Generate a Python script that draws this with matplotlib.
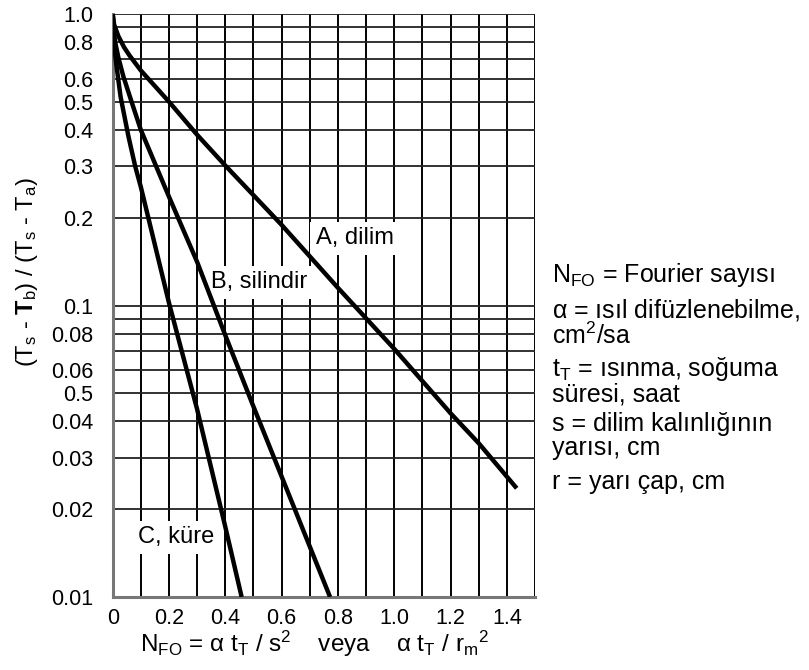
import numpy as np
import matplotlib.pyplot as plt
from matplotlib.ticker import FixedLocator, NullLocator

plt.rcParams['font.family'] = ['Liberation Sans', 'DejaVu Sans']
plt.rcParams['mathtext.fontset'] = 'custom'
plt.rcParams['mathtext.rm'] = 'Liberation Sans'
plt.rcParams['mathtext.it'] = 'Liberation Sans:italic'
plt.rcParams['mathtext.bf'] = 'Liberation Sans:bold'

# curves (N_FO, temperature ratio)
nfo_dilim = [0, 0.005, 0.02, 0.04, 0.06, 0.1, 0.2, 0.3, 0.4, 0.5, 0.6, 0.8, 1.0, 1.2, 1.3, 1.435]
dilim = [1.0, 0.92, 0.84, 0.77, 0.72, 0.64, 0.50, 0.385, 0.302, 0.239, 0.189, 0.115, 0.071, 0.0427, 0.0337, 0.0236]

nfo_silindir = [0, 0.005, 0.01, 0.02, 0.038, 0.067, 0.1, 0.2, 0.3, 0.4, 0.5, 0.6, 0.7, 0.772]
silindir = [1.0, 0.85, 0.79, 0.71, 0.61, 0.50, 0.40, 0.236, 0.141, 0.079, 0.045, 0.0259, 0.0149, 0.01]

nfo_kure = [0, 0.005, 0.012, 0.028, 0.056, 0.08, 0.1, 0.2, 0.3, 0.4, 0.458]
kure = [1.0, 0.79, 0.68, 0.52, 0.38, 0.30, 0.255, 0.102, 0.044, 0.0174, 0.01]

# axis ticks / grid
x_ticks = [0, 0.2, 0.4, 0.6, 0.8, 1.0, 1.2, 1.4]
x_ticklabels = ['0', '0.2', '0.4', '0.6', '0.8', '1.0', '1.2', '1.4']
x_grid = np.arange(0, 16) / 10
y_ticks = [1.0, 0.8, 0.6, 0.5, 0.4, 0.3, 0.2, 0.1, 0.08, 0.06, 0.05, 0.04, 0.03, 0.02, 0.01]
y_ticklabels = ['1.0', '0.8', '0.6', '0.5', '0.4', '0.3', '0.2', '0.1', '0.08', '0.06', '0.5', '0.04', '0.03', '0.02', '0.01']
y_grid = [1.0, 0.9, 0.8, 0.7, 0.6, 0.5, 0.4, 0.3, 0.2, 0.1, 0.09, 0.08, 0.07, 0.06, 0.05, 0.04, 0.03, 0.02]

# side notes (one entry per definition, wrapped like the original)
notes = [
    r'N$_\mathrm{FO}$ = Fourier sayısı',
    r'$\mathrm{\alpha}$ = ısıl difüzlenebilme,' + '\n' + r'cm$^\mathrm{2}$/sa',
    r't$_\mathrm{T}$ = ısınma, soğuma' + '\nsüresi, saat',
    's = dilim kalınlığının\nyarısı, cm',
    'r = yarı çap, cm',
]
notes_y = [275, 323, 381, 436, 482]

fig = plt.figure(figsize=(8.09, 6.70), dpi=100)
ax = fig.add_axes([112.7 / 809, 1 - 597 / 670, (535 - 112.7) / 809, (597 - 14) / 670])
ax.set_yscale('log')
ax.set_xlim(0, 1.5)
ax.set_ylim(0.01, 1.0)

for gx in x_grid:
    ax.axvline(gx, color='black', lw=1.4, zorder=1)
for gy in y_grid:
    ax.axhline(gy, color='#222222', lw=1.3, zorder=1)

ax.plot(nfo_dilim, dilim, color='black', lw=3.2, zorder=3, solid_capstyle='butt')
ax.plot(nfo_silindir, silindir, color='black', lw=3.2, zorder=3, solid_capstyle='butt')
ax.plot(nfo_kure, kure, color='black', lw=3.2, zorder=3, solid_capstyle='butt')

box = dict(facecolor='white', edgecolor='none', pad=4)
ax.text(0.86, 0.17, 'A, dilim', fontsize=17, ha='center', va='center', bbox=box, zorder=2)
ax.text(0.52, 0.12, 'B, silindir', fontsize=17, ha='center', va='center', bbox=box, zorder=2)
ax.text(0.225, 0.016, 'C, küre', fontsize=17, ha='center', va='center', bbox=box, zorder=2)

ax.yaxis.set_major_locator(FixedLocator(y_ticks))
ax.yaxis.set_minor_locator(NullLocator())
ax.set_yticklabels(y_ticklabels)
ax.set_xticks(x_ticks)
ax.set_xticklabels(x_ticklabels)
ax.tick_params(length=0, labelsize=15.5, pad=8)
ax.tick_params(axis='y', pad=14)

for side in ['top', 'right']:
    ax.spines[side].set_visible(False)
for side in ['left', 'bottom']:
    ax.spines[side].set_color('#777777')
    ax.spines[side].set_linewidth(2.2)

fig.text(27 / 809, 1 - 272 / 670,
         r'(T$_\mathrm{s}$ - $\mathbf{T}_\mathrm{b}$) / (T$_\mathrm{s}$ - T$_\mathrm{a}$)',
         rotation=90, ha='center', va='center', fontsize=17)
fig.text(315 / 809, 1 - 644 / 670,
         r'N$_\mathrm{FO}$ = $\mathrm{\alpha}$ t$_\mathrm{T}$ / s$^\mathrm{2}$    veya    '
         r'$\mathrm{\alpha}$ t$_\mathrm{T}$ / r$_\mathrm{m}$$^\mathrm{2}$',
         ha='center', va='center', fontsize=17.5)

for txt, yy in zip(notes, notes_y):
    fig.text(552 / 809, 1 - yy / 670, txt, ha='left', va='center', fontsize=18,
             linespacing=0.95)

fig.savefig('out.png', dpi=100)
